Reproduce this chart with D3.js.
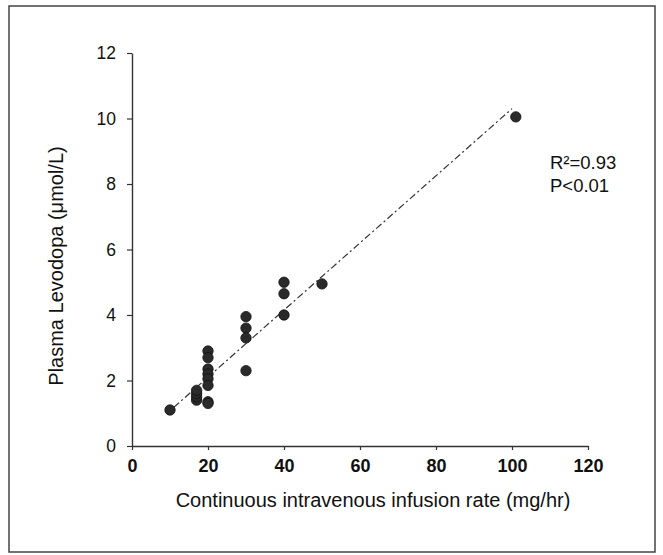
<!DOCTYPE html>
<html>
<head>
<meta charset="utf-8">
<script src="https://cdn.jsdelivr.net/npm/d3@7"></script>
<style>
  body { margin: 0; background: #fff; }
  text { font-family: "Liberation Sans", Arial, sans-serif; fill: #111; }
</style>
</head>
<body>
<script>
let width = 663;
let height = 555;

// infusion rate (mg/hr) and plasma levodopa (umol/L)
const rate =     [10, 17, 17, 17, 17, 20, 20, 20, 20, 20, 20, 20, 20, 30, 30, 30, 30, 40, 40, 40, 50, 101]
const levodopa = [1.1, 1.4, 1.5, 1.6, 1.7, 2.9, 2.7, 2.35, 2.2, 2.05, 1.85, 1.35, 1.3, 3.95, 3.6, 3.3, 2.3, 5.0, 4.65, 4.0, 4.95, 10.05]

const xTicks = [0, 20, 40, 60, 80, 100, 120]
const yTicks = [0, 2, 4, 6, 8, 10, 12]

// fitted line, ends
const fitX = [11, 100]
const fitY = [1.18, 10.3]

const stats = ['R²=0.93', 'P<0.01']

const svg = d3.select('body').append('svg').attr('width', width).attr('height', height)

// outer frame
svg.append('rect')
  .attr('x', 9).attr('y', 6).attr('width', 646).attr('height', 546)
  .attr('fill', 'none').attr('stroke', '#444').attr('stroke-width', 1.5)

const x = d3.scaleLinear().domain([0, 120]).range([132, 588])
const y = d3.scaleLinear().domain([0, 12]).range([446, 53])

const xAxis = d3.axisBottom(x).tickValues(xTicks).tickSize(4).tickSizeOuter(0).tickPadding(9)
const yAxis = d3.axisLeft(y).tickValues(yTicks).tickSize(5).tickSizeOuter(0).tickPadding(11)

const gx = svg.append('g').attr('transform', `translate(0,${y(0)})`).call(xAxis)
gx.selectAll('text').style('font-size', '18px').style('font-weight', 'bold')
  .style('font-family', '"Liberation Sans", Arial, sans-serif').attr('fill', '#111')

const gy = svg.append('g').attr('transform', `translate(${x(0)},0)`).call(yAxis)
gy.selectAll('text').style('font-size', '17.5px')
  .style('font-family', '"Liberation Sans", Arial, sans-serif').attr('fill', '#111')

svg.selectAll('.domain').attr('stroke', '#333').attr('stroke-width', 1.4)
svg.selectAll('.tick line').attr('stroke', '#333').attr('stroke-width', 1.2)

// regression line
svg.append('line')
  .attr('x1', x(fitX[0])).attr('y1', y(fitY[0]))
  .attr('x2', x(fitX[1])).attr('y2', y(fitY[1]))
  .attr('stroke', '#333').attr('stroke-width', 1.2)
  .attr('stroke-dasharray', '7,3,2,3')

// points
svg.append('g')
  .selectAll('circle')
  .data(rate)
  .enter()
  .append('circle')
  .attr('cx', (d) => x(d))
  .attr('cy', (d, i) => y(levodopa[i]))
  .attr('r', 5.2)
  .attr('fill', '#2a2a2a')
  .attr('stroke', '#111')
  .attr('stroke-width', 0.8)

// stats text
svg.append('g')
  .selectAll('text')
  .data(stats)
  .enter()
  .append('text')
  .attr('x', 550)
  .attr('y', (d, i) => 169 + i * 23)
  .style('font-size', '18.5px')
  .text((d) => d)

// axis titles
svg.append('text')
  .attr('x', 373).attr('y', 507)
  .attr('text-anchor', 'middle')
  .style('font-size', '20px')
  .text('Continuous intravenous infusion rate (mg/hr)')

svg.append('text')
  .attr('transform', 'translate(63,266) rotate(-90)')
  .attr('text-anchor', 'middle')
  .style('font-size', '20px')
  .text('Plasma Levodopa (μmol/L)')
</script>
</body>
</html>
